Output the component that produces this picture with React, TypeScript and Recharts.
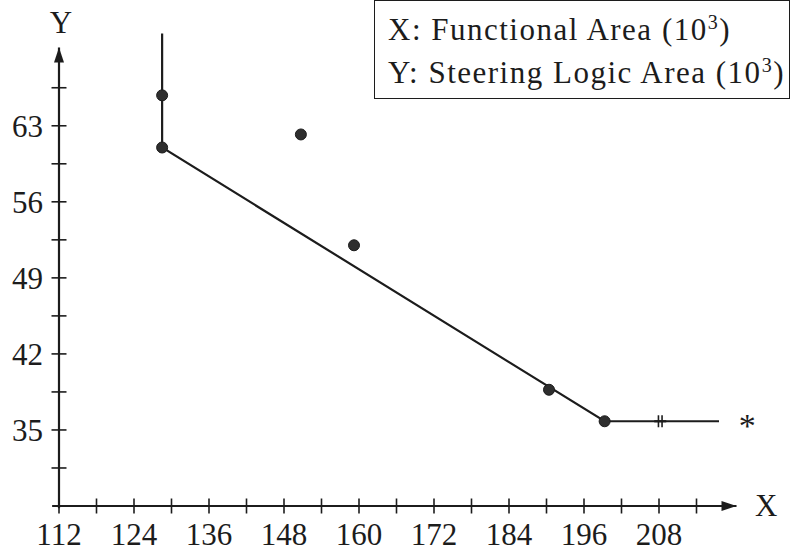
import React from 'react';
import { ComposedChart, XAxis, YAxis, Line, Scatter, ReferenceLine, Legend } from 'recharts';

const FONT = '"Liberation Serif", "Times New Roman", serif';
const INK = '#1c1c1c';

// Axis ticks
const xTicks = [112, 118, 124, 130, 136, 142, 148, 154, 160, 166, 172, 178, 184, 190, 196, 202, 208, 214];
const xTickLabels = [112, 124, 136, 148, 160, 172, 184, 196, 208];
const yTicks = [31.5, 35, 38.5, 42, 45.5, 49, 52.5, 56, 59.5, 63, 66.5];
const yTickLabels = [35, 42, 49, 56, 63];

// Frontier line (X: functional area, Y: steering logic area)
const frontierX = [128.5, 128.5, 199.3, 217.6];
const frontierY = [71.5, 61.0, 35.8, 35.8];

// Design points
const designX = [128.5, 128.5, 150.7, 159.2, 190.4, 199.3];
const designY = [65.8, 61.0, 62.2, 52.0, 38.7, 35.8];

// Special markers
const crossX = [208.2];
const crossY = [35.8];
const starX = [222.1];
const starY = [35.8];

// Axis extents (arrows)
const xAxisStart = 110.9;
const xAxisEnd = 220.4;
const yAxisStart = 27.8;
const yAxisEnd = 70.2;
const xMin = 112;
const yMin = 28;

const legendLines = ['X: Functional Area', 'Y: Steering Logic Area'];

const frontierData = frontierX.map((x, i) => ({ x, y: frontierY[i] }));
const designData = designX.map((x, i) => ({ x, y: designY[i] }));
const crossData = crossX.map((x, i) => ({ x, y: crossY[i] }));
const starData = starX.map((x, i) => ({ x, y: starY[i] }));
const xArrowData = [{ x: xAxisEnd, y: yMin }];
const yArrowData = [{ x: xMin, y: yAxisEnd }];

const XTick = (props: any) => {
  const { x, y, payload } = props;
  const major = xTickLabels.includes(payload.value);
  return (
    <g>
      <line x1={x} x2={x} y1={y - 7.5} y2={y + 7.5} stroke={INK} strokeWidth={1.6} />
      {major && (
        <text x={x} y={y + 39} textAnchor="middle" fontFamily={FONT} fontSize={31} fill={INK}>
          {payload.value}
        </text>
      )}
    </g>
  );
};

const YTick = (props: any) => {
  const { x, y, payload } = props;
  const major = yTickLabels.includes(payload.value);
  return (
    <g>
      <line x1={x - 7.5} x2={x + 7.5} y1={y} y2={y} stroke={INK} strokeWidth={1.6} />
      {major && (
        <text x={x - 16} y={y + 11} textAnchor="end" fontFamily={FONT} fontSize={31} fill={INK}>
          {payload.value}
        </text>
      )}
    </g>
  );
};

const Dot = (props: any) => {
  const { cx, cy } = props;
  return <circle cx={cx} cy={cy} r={5.5} fill="#2e2e2e" stroke={INK} strokeWidth={1} />;
};

const Cross = (props: any) => {
  const { cx, cy } = props;
  return (
    <g stroke={INK} strokeWidth={1.6}>
      <line x1={cx - 1.8} x2={cx - 1.8} y1={cy - 6} y2={cy + 6} />
      <line x1={cx + 1.8} x2={cx + 1.8} y1={cy - 6} y2={cy + 6} />
      <line x1={cx - 6} x2={cx + 6} y1={cy} y2={cy} strokeWidth={2.2} />
    </g>
  );
};

const Star = (props: any) => {
  const { cx, cy } = props;
  return (
    <text x={cx} y={cy + 16} textAnchor="middle" fontFamily={FONT} fontSize={34} fill={INK}>
      *
    </text>
  );
};

const RightArrow = (props: any) => {
  const { cx, cy } = props;
  return <polygon points={`${cx},${cy} ${cx - 15},${cy - 5} ${cx - 15},${cy + 5}`} fill={INK} />;
};

const UpArrow = (props: any) => {
  const { cx, cy } = props;
  return <polygon points={`${cx},${cy} ${cx - 5},${cy + 15} ${cx + 5},${cy + 15}`} fill={INK} />;
};

const LegendBox = () => (
  <div
    style={{
      boxSizing: 'border-box',
      width: 416,
      height: 99,
      border: `1.5px solid ${INK}`,
      background: '#fff',
      padding: '9px 0 0 13px',
      fontFamily: FONT,
      fontSize: 31,
      lineHeight: '39px',
      color: INK,
      letterSpacing: '1.5px',
      whiteSpace: 'nowrap',
      textAlign: 'left',
    }}
  >
    {legendLines.map((t) => (
      <div key={t}>
        {t} (10
        <span style={{ fontSize: 20, position: 'relative', top: -11 }}>3</span>)
      </div>
    ))}
  </div>
);

const yLabel = (p: any) => {
  const vb = p && p.viewBox ? p.viewBox : { x: 0, y: 28, width: 59, height: 478 };
  return (
    <text x={vb.x + vb.width + 2} y={vb.y + 5} textAnchor="middle" fontFamily={FONT} fontSize={31} fill={INK}>
      Y
    </text>
  );
};

const xLabel = (p: any) => {
  const vb = p && p.viewBox ? p.viewBox : { x: 59, y: 506, width: 700, height: 48 };
  return (
    <text x={vb.x + vb.width - 4} y={vb.y + 10} textAnchor="start" fontFamily={FONT} fontSize={31} fill={INK}>
      X
    </text>
  );
};

export default function App() {
  return (
    <div style={{ position: 'absolute', left: 0, top: 0, background: '#fff' }}>
      <ComposedChart width={795} height={554} margin={{ top: 28, right: 36, bottom: 0, left: 0 }}>
        <XAxis
          type="number"
          dataKey="x"
          domain={[112, 224]}
          ticks={xTicks}
          interval={0}
          tick={(p: any) => <XTick {...p} />}
          tickLine={false}
          axisLine={false}
          tickSize={0}
          tickMargin={0}
          height={48}
          label={{ content: xLabel }}
        />
        <YAxis
          type="number"
          dataKey="y"
          domain={[28, 72]}
          ticks={yTicks}
          interval={0}
          tick={(p: any) => <YTick {...p} />}
          tickLine={false}
          axisLine={false}
          tickSize={0}
          tickMargin={0}
          width={59}
          label={{ content: yLabel }}
        />
        <ReferenceLine
          segment={[{ x: xAxisStart, y: yMin }, { x: xAxisEnd, y: yMin }]}
          stroke={INK}
          strokeWidth={2.2}
          ifOverflow="visible"
        />
        <ReferenceLine
          segment={[{ x: xMin, y: yAxisStart }, { x: xMin, y: yAxisEnd }]}
          stroke={INK}
          strokeWidth={2.2}
          ifOverflow="visible"
        />
        <Line
          data={frontierData}
          dataKey="y"
          type="linear"
          stroke={INK}
          strokeWidth={2.2}
          dot={false}
          activeDot={false}
          isAnimationActive={false}
        />
        <Scatter data={designData} shape={Dot} isAnimationActive={false} />
        <Scatter data={crossData} shape={Cross} isAnimationActive={false} />
        <Scatter data={starData} shape={Star} isAnimationActive={false} />
        <Scatter data={xArrowData} shape={RightArrow} isAnimationActive={false} />
        <Scatter data={yArrowData} shape={UpArrow} isAnimationActive={false} />
        <Legend
          layout="horizontal"
          verticalAlign="middle"
          align="center"
          content={() => <LegendBox />}
          wrapperStyle={{ top: 0, left: 374, width: 416, height: 99 }}
        />
      </ComposedChart>
    </div>
  );
}
